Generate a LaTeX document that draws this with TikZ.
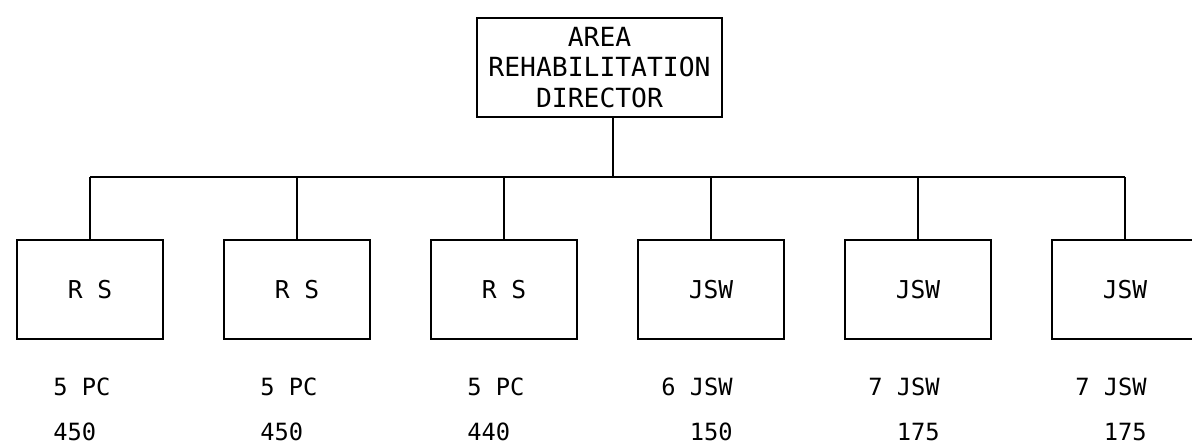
\documentclass[tikz,border=0pt]{standalone}
\usepackage{fontspec}
\setmonofont{DejaVu Sans Mono}
\usetikzlibrary{positioning}
\tikzset{
  orgline/.style={black, line width=1.6pt},
  headbox/.style={draw, line width=1.6pt, minimum width=4.9cm, minimum height=1.98cm,
    inner sep=0pt, align=center, font=\ttfamily\fontsize{15}{17.6}\selectfont},
  unitbox/.style={draw, line width=1.6pt, minimum width=2.92cm, minimum height=1.98cm,
    inner sep=0pt, font=\ttfamily\fontsize{14}{16}\selectfont},
  staffnote/.style={inner sep=0pt, font=\ttfamily\fontsize{13.5}{16}\selectfont},
}

\begin{document}
\begin{tikzpicture}[x=0.02cm, y=-0.02cm]
  \useasboundingbox (0,0) rectangle (1192,444);
  % ---------------- director ----------------
  \node[headbox] (head) at (599.5,67.5) {AREA\\REHABILITATION\\DIRECTOR};
  \coordinate (bus) at (613,177);
  \draw[orgline] (bus |- head.south) -- (bus);
  % ---------------- units ----------------
  \foreach \i/\lbl in {1/R S,2/R S,3/R S,4/JSW,5/JSW,6/JSW} {
    \node[unitbox] (b\i) at ({90+207*(\i-1)},289.5) {\lbl};
    \draw[orgline] (b\i.north) -- (b\i.north |- bus);
  }
  \draw[orgline] (b1.north |- bus) -- (b6.north |- bus);
  % ---------------- staff and caseload ----------------
  \foreach \i/\staff/\load in {1/5 PC/450,2/5 PC/450,3/5 PC/440} {
    \node[staffnote, anchor=base west] (s\i) at ({53+207*(\i-1)},395) {\staff};
    \node[staffnote, anchor=base west] (c\i) at ({53+207*(\i-1)},440) {\load};
  }
  \foreach \i/\staff/\load in {4/6 JSW/150,5/7 JSW/175,6/7 JSW/175} {
    \node[staffnote, anchor=base east] (s\i) at ({733+207*(\i-4)},395) {\staff};
    \node[staffnote, anchor=base east] (c\i) at ({733+207*(\i-4)},440) {\load};
  }
\end{tikzpicture}
\end{document}
